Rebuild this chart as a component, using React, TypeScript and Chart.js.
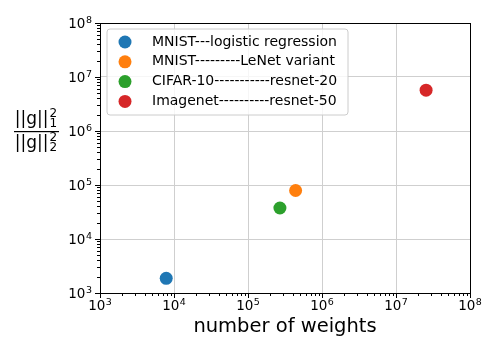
import React, { useEffect, useRef } from "react";
import { Chart, registerables } from "chart.js";
Chart.register(...registerables);

const seriesLabels = [
  "MNIST---logistic regression",
  "MNIST---------LeNet variant",
  "CIFAR-10-----------resnet-20",
  "Imagenet----------resnet-50",
];
const numWeights = [7850, 440000, 270000, 25500000];
const normRatio = [1870, 79000, 37500, 5700000];
const seriesColors = ["#1f77b4", "#ff7f0e", "#2ca02c", "#d62728"];
const decades = [1e3, 1e4, 1e5, 1e6, 1e7, 1e8];
const decadeExponents = ["3", "4", "5", "6", "7", "8"];
const xTitle = "number of weights";

const FONT = "'DejaVu Sans', sans-serif";

const decorPlugin = {
  id: "decor",
  afterDraw(chart: any) {
    const ctx = chart.ctx as CanvasRenderingContext2D;
    const { left, right, top, bottom } = chart.chartArea;
    const xs = chart.scales.x;
    const ys = chart.scales.y;
    ctx.save();
    // minor + major ticks
    ctx.strokeStyle = "#000";
    ctx.lineWidth = 1;
    for (let e = 3; e < 8; e++) {
      for (let m = 1; m <= 9; m++) {
        const v = m * Math.pow(10, e);
        const len = m === 1 ? 5 : 3;
        const px = Math.round(xs.getPixelForValue(v)) + 0.5;
        ctx.beginPath();
        ctx.moveTo(px, bottom);
        ctx.lineTo(px, bottom + len);
        ctx.stroke();
        const py = Math.round(ys.getPixelForValue(v)) + 0.5;
        ctx.beginPath();
        ctx.moveTo(left, py);
        ctx.lineTo(left - len, py);
        ctx.stroke();
      }
    }
    const px8 = Math.round(xs.getPixelForValue(1e8)) + 0.5;
    ctx.beginPath();
    ctx.moveTo(px8, bottom);
    ctx.lineTo(px8, bottom + 5);
    ctx.stroke();
    const py8 = Math.round(ys.getPixelForValue(1e8)) + 0.5;
    ctx.beginPath();
    ctx.moveTo(left, py8);
    ctx.lineTo(left - 5, py8);
    ctx.stroke();
    // frame
    ctx.strokeRect(Math.round(left) + 0.5, Math.round(top) + 0.5, Math.round(right - left), Math.round(bottom - top));

    // tick labels 10^n
    ctx.fillStyle = "#000";
    ctx.textBaseline = "alphabetic";
    ctx.textAlign = "left";
    const bigF = `13.5px ${FONT}`;
    const smallF = `9.5px ${FONT}`;
    decades.forEach((v, i) => {
      const ex = decadeExponents[i];
      ctx.font = bigF;
      const wb = ctx.measureText("10").width;
      ctx.font = smallF;
      const ws = ctx.measureText(ex).width;
      const tw = wb + ws + 0.5;
      // x axis
      const px = xs.getPixelForValue(v);
      const x0 = px - tw / 2;
      ctx.font = bigF;
      ctx.fillText("10", x0, 310);
      ctx.font = smallF;
      ctx.fillText(ex, x0 + wb + 0.5, 305);
      // y axis
      const py = ys.getPixelForValue(v);
      const yx0 = left - 8 - tw;
      ctx.font = bigF;
      ctx.fillText("10", yx0, py + 5);
      ctx.font = smallF;
      ctx.fillText(ex, yx0 + wb + 0.5, py);
    });

    // x title
    ctx.font = `19.5px ${FONT}`;
    ctx.textAlign = "center";
    ctx.fillText(xTitle, (left + right) / 2, 332);

    // y title: fraction
    const drawNorm = (cx: number, base: number, sub: string) => {
      ctx.font = `17px ${FONT}`;
      const main = "||g||";
      const mw = ctx.measureText(main).width;
      ctx.font = `12px ${FONT}`;
      const sw = ctx.measureText("2").width;
      const total = mw + sw + 1;
      const x0 = cx - total / 2;
      ctx.textAlign = "left";
      ctx.font = `17px ${FONT}`;
      ctx.fillText(main, x0, base);
      ctx.font = `12px ${FONT}`;
      ctx.fillText("2", x0 + mw + 1, base - 7);
      ctx.fillText(sub, x0 + mw + 1, base + 3);
    };
    const cx = 36;
    drawNorm(cx, 124, "1");
    ctx.fillRect(14, 131, 45, 1.2);
    drawNorm(cx, 148, "2");

    // legend
    const lx = 107, ly = 29, lw = 241, lh = 86;
    ctx.beginPath();
    const r = 3;
    ctx.moveTo(lx + r, ly);
    ctx.lineTo(lx + lw - r, ly);
    ctx.quadraticCurveTo(lx + lw, ly, lx + lw, ly + r);
    ctx.lineTo(lx + lw, ly + lh - r);
    ctx.quadraticCurveTo(lx + lw, ly + lh, lx + lw - r, ly + lh);
    ctx.lineTo(lx + r, ly + lh);
    ctx.quadraticCurveTo(lx, ly + lh, lx, ly + lh - r);
    ctx.lineTo(lx, ly + r);
    ctx.quadraticCurveTo(lx, ly, lx + r, ly);
    ctx.closePath();
    ctx.fillStyle = "rgba(255,255,255,0.8)";
    ctx.fill();
    ctx.strokeStyle = "#cccccc";
    ctx.lineWidth = 1;
    ctx.stroke();
    chart.data.datasets.forEach((ds: any, i: number) => {
      const yy = 42 + i * 19.8;
      ctx.beginPath();
      ctx.arc(125, yy, 6.5, 0, Math.PI * 2);
      ctx.fillStyle = ds.backgroundColor;
      ctx.fill();
      ctx.fillStyle = "#000";
      ctx.font = `14px ${FONT}`;
      ctx.textAlign = "left";
      ctx.textBaseline = "middle";
      ctx.fillText(ds.label, 152, yy);
    });
    ctx.restore();
  },
};

export default function App() {
  const ref = useRef<HTMLCanvasElement>(null);
  useEffect(() => {
    document.body.style.margin = "0";
    const datasets = seriesLabels.map((label, i) => ({
      label,
      data: [{ x: numWeights[i], y: normRatio[i] }],
      backgroundColor: seriesColors[i],
      borderColor: seriesColors[i],
      pointRadius: 6.5,
      pointBorderWidth: 0,
    }));
    const gridColor = "#cfcfcf";
    const chart = new Chart(ref.current!, {
      type: "scatter",
      data: { datasets },
      options: {
        animation: false,
        responsive: false,
        layout: { padding: { top: 23, right: 28, left: 0, bottom: 0 } },
        plugins: { legend: { display: false }, tooltip: { enabled: false } },
        scales: {
          x: {
            type: "logarithmic",
            min: 1e3,
            max: 1e8,
            afterBuildTicks: (s: any) => {
              s.ticks = decades.map((v) => ({ value: v }));
            },
            afterFit: (s: any) => {
              s.height = 63;
            },
            ticks: { display: false },
            grid: { color: gridColor, lineWidth: 1, drawTicks: false },
            border: { display: false },
          },
          y: {
            type: "logarithmic",
            min: 1e3,
            max: 1e8,
            afterBuildTicks: (s: any) => {
              s.ticks = decades.map((v) => ({ value: v }));
            },
            afterFit: (s: any) => {
              s.width = 100;
            },
            ticks: { display: false },
            grid: { color: gridColor, lineWidth: 1, drawTicks: false },
            border: { display: false },
          },
        },
      },
      plugins: [decorPlugin],
    });
    return () => chart.destroy();
  }, []);
  return (
    <div style={{ width: 498, height: 356, position: "relative" }}>
      <canvas ref={ref} width={498} height={356} style={{ display: "block" }} />
    </div>
  );
}
